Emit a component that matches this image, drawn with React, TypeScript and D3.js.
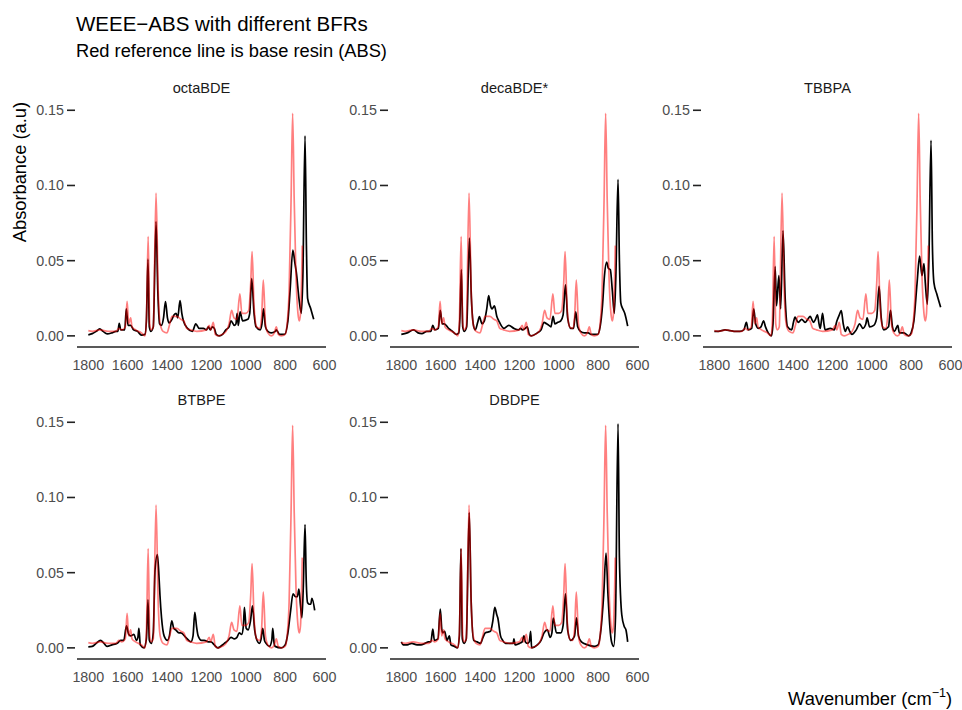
import React from 'react';
import * as d3 from 'd3';

type Pt = [number, number];

// base resin (ABS) reference spectrum, drawn red in every panel
const absBase: Pt[] = [
  [1800, 0.0035], [1780, 0.003], [1740, 0.004], [1700, 0.003], [1660, 0.003], [1645, 0.005],
  [1630, 0.004], [1612, 0.006], [1603, 0.023], [1595, 0.008], [1585, 0.012], [1578, 0.006],
  [1560, 0.004], [1530, 0.002], [1512, 0.0], [1505, 0.01], [1496, 0.066], [1488, 0.008],
  [1480, 0.004], [1470, 0.006], [1456, 0.095], [1445, 0.03], [1435, 0.008], [1420, 0.003],
  [1400, 0.002], [1390, 0.006], [1375, 0.013], [1350, 0.013], [1330, 0.011], [1315, 0.01],
  [1300, 0.005], [1280, 0.004], [1250, 0.003], [1200, 0.004], [1186, 0.007], [1178, 0.004],
  [1165, 0.009], [1155, 0.001], [1140, 0.0], [1120, 0.001], [1100, 0.003], [1085, 0.008],
  [1072, 0.017], [1060, 0.012], [1045, 0.011], [1030, 0.028], [1020, 0.015], [1000, 0.015],
  [985, 0.017], [975, 0.035], [968, 0.056], [958, 0.02], [945, 0.006], [930, 0.005],
  [920, 0.012], [911, 0.037], [900, 0.008], [888, 0.002], [870, 0.0], [855, 0.002],
  [845, 0.006], [835, 0.001], [820, 0.0], [800, 0.001], [790, 0.008], [780, 0.03],
  [770, 0.09], [762, 0.148], [754, 0.09], [745, 0.04], [735, 0.015], [728, 0.01],
  [722, 0.015], [713, 0.06],
];

const octaBDE: Pt[] = [
  [1800, 0.0007], [1780, 0.0015], [1760, 0.003], [1742, 0.0046], [1725, 0.003], [1704, 0.0013],
  [1680, 0.002], [1660, 0.003], [1650, 0.003], [1643, 0.0084], [1635, 0.004], [1615, 0.004],
  [1607, 0.018], [1598, 0.007], [1585, 0.007], [1570, 0.004], [1550, 0.003], [1530, 0.0005],
  [1512, 0.001], [1505, 0.01], [1497, 0.051], [1490, 0.006], [1482, 0.003], [1470, 0.006],
  [1456, 0.076], [1447, 0.03], [1438, 0.008], [1428, 0.007], [1418, 0.012], [1408, 0.0228],
  [1398, 0.012], [1390, 0.0086], [1375, 0.011], [1364, 0.014], [1354, 0.015], [1346, 0.012],
  [1334, 0.0234], [1325, 0.015], [1317, 0.01], [1296, 0.005], [1271, 0.003], [1254, 0.008],
  [1237, 0.005], [1215, 0.005], [1200, 0.004], [1190, 0.006], [1180, 0.004], [1170, 0.006],
  [1160, 0.005], [1150, 0.001], [1135, 0.0], [1118, 0.001], [1101, 0.004], [1085, 0.006],
  [1075, 0.01], [1058, 0.007], [1050, 0.008], [1044, 0.015], [1038, 0.007], [1029, 0.016],
  [1016, 0.01], [990, 0.011], [980, 0.015], [970, 0.038], [958, 0.015], [948, 0.006],
  [927, 0.004], [918, 0.008], [910, 0.018], [900, 0.006], [888, 0.003], [871, 0.002],
  [850, 0.003], [845, 0.004], [828, 0.001], [803, 0.001], [786, 0.01], [775, 0.03],
  [761, 0.057], [750, 0.048], [743, 0.042], [730, 0.025], [718, 0.015], [710, 0.04],
  [699, 0.133], [692, 0.06], [686, 0.025], [670, 0.018], [655, 0.011],
];

const decaBDE: Pt[] = [
  [1800, 0.001], [1770, 0.002], [1738, 0.004], [1715, 0.002], [1696, 0.0015], [1670, 0.003],
  [1650, 0.003], [1640, 0.007], [1630, 0.004], [1612, 0.005], [1602, 0.017], [1592, 0.008],
  [1582, 0.008], [1560, 0.005], [1540, 0.003], [1520, 0.001], [1508, 0.002], [1503, 0.01],
  [1495, 0.044], [1488, 0.006], [1480, 0.003], [1468, 0.006], [1454, 0.065], [1444, 0.025],
  [1432, 0.006], [1424, 0.004], [1412, 0.009], [1403, 0.0128], [1396, 0.01], [1390, 0.008],
  [1378, 0.01], [1366, 0.018], [1356, 0.0268], [1347, 0.02], [1339, 0.018], [1327, 0.02],
  [1315, 0.013], [1305, 0.01], [1279, 0.005], [1254, 0.007], [1228, 0.005], [1205, 0.004],
  [1194, 0.005], [1185, 0.004], [1170, 0.005], [1160, 0.006], [1150, 0.001], [1140, 0.0],
  [1109, 0.002], [1090, 0.004], [1075, 0.009], [1062, 0.008], [1050, 0.007], [1040, 0.006],
  [1029, 0.013], [1020, 0.008], [1005, 0.009], [990, 0.01], [978, 0.014], [966, 0.034],
  [955, 0.012], [939, 0.005], [925, 0.005], [914, 0.016], [904, 0.006], [890, 0.003],
  [870, 0.002], [850, 0.002], [837, 0.001], [803, 0.001], [790, 0.006], [778, 0.02],
  [768, 0.04], [757, 0.049], [748, 0.045], [738, 0.044], [728, 0.03], [718, 0.015],
  [710, 0.04], [699, 0.104], [692, 0.05], [685, 0.022], [675, 0.018], [665, 0.015],
  [650, 0.0065],
];

const tbbpa: Pt[] = [
  [1800, 0.003], [1780, 0.003], [1745, 0.004], [1720, 0.0035], [1700, 0.003], [1670, 0.003],
  [1650, 0.004], [1637, 0.009], [1628, 0.004], [1610, 0.005], [1600, 0.018], [1590, 0.008],
  [1577, 0.005], [1563, 0.006], [1550, 0.01], [1540, 0.006], [1526, 0.002], [1510, 0.0],
  [1502, 0.008], [1491, 0.046], [1484, 0.02], [1472, 0.04], [1463, 0.018], [1451, 0.07],
  [1440, 0.025], [1428, 0.006], [1407, 0.004], [1398, 0.009], [1390, 0.0124], [1380, 0.01],
  [1373, 0.009], [1356, 0.011], [1339, 0.009], [1325, 0.011], [1313, 0.013], [1305, 0.011],
  [1296, 0.009], [1286, 0.011], [1276, 0.014], [1268, 0.008], [1262, 0.005], [1256, 0.01],
  [1250, 0.015], [1243, 0.008], [1237, 0.004], [1211, 0.005], [1191, 0.004], [1177, 0.01],
  [1165, 0.014], [1155, 0.0168], [1145, 0.008], [1135, 0.003], [1123, 0.006], [1112, 0.003],
  [1101, 0.001], [1079, 0.004], [1062, 0.008], [1045, 0.005], [1030, 0.008], [1024, 0.012],
  [1011, 0.006], [990, 0.007], [975, 0.012], [963, 0.033], [952, 0.012], [939, 0.004],
  [915, 0.006], [905, 0.017], [895, 0.006], [885, 0.003], [868, 0.007], [860, 0.002],
  [837, 0.002], [812, 0.0], [800, 0.002], [786, 0.01], [770, 0.035], [757, 0.053],
  [745, 0.04], [735, 0.048], [728, 0.035], [718, 0.021], [710, 0.05], [699, 0.13],
  [692, 0.06], [684, 0.035], [670, 0.028], [650, 0.019],
];

const btbpe: Pt[] = [
  [1800, 0.0007], [1780, 0.001], [1760, 0.003], [1738, 0.005], [1720, 0.003], [1705, 0.001],
  [1680, 0.002], [1653, 0.003], [1636, 0.005], [1620, 0.005], [1606, 0.0147], [1595, 0.009],
  [1585, 0.008], [1568, 0.009], [1556, 0.005], [1548, 0.007], [1543, 0.013], [1536, 0.002],
  [1517, 0.0], [1505, 0.006], [1497, 0.032], [1490, 0.005], [1480, 0.003], [1470, 0.01],
  [1461, 0.052], [1449, 0.062], [1440, 0.045], [1436, 0.035], [1428, 0.02], [1415, 0.008],
  [1398, 0.005], [1388, 0.008], [1376, 0.018], [1366, 0.013], [1356, 0.012], [1340, 0.01],
  [1330, 0.01], [1305, 0.007], [1279, 0.004], [1268, 0.008], [1259, 0.0236], [1250, 0.014],
  [1242, 0.008], [1225, 0.005], [1211, 0.005], [1190, 0.004], [1177, 0.004], [1160, 0.002],
  [1143, 0.0], [1109, 0.003], [1090, 0.005], [1075, 0.007], [1058, 0.006], [1045, 0.007],
  [1033, 0.01], [1021, 0.009], [1012, 0.015], [1007, 0.027], [998, 0.013], [988, 0.012],
  [976, 0.018], [966, 0.028], [955, 0.012], [946, 0.006], [931, 0.003], [922, 0.006],
  [914, 0.013], [905, 0.005], [897, 0.003], [880, 0.001], [868, 0.005], [863, 0.013],
  [856, 0.003], [851, 0.001], [820, 0.0], [800, 0.002], [786, 0.01], [772, 0.025],
  [760, 0.036], [748, 0.034], [738, 0.034], [730, 0.039], [722, 0.028], [715, 0.02],
  [708, 0.04], [699, 0.082], [693, 0.045], [686, 0.03], [676, 0.029], [670, 0.029],
  [664, 0.033], [650, 0.025],
];

const dbdpe: Pt[] = [
  [1800, 0.004], [1790, 0.002], [1770, 0.002], [1747, 0.003], [1720, 0.002], [1700, 0.002],
  [1680, 0.003], [1662, 0.004], [1650, 0.004], [1640, 0.0124], [1632, 0.005], [1614, 0.006],
  [1602, 0.0258], [1594, 0.012], [1589, 0.01], [1580, 0.011], [1568, 0.005], [1556, 0.008],
  [1548, 0.002], [1530, 0.001], [1515, 0.0], [1505, 0.008], [1497, 0.066], [1490, 0.006],
  [1481, 0.003], [1470, 0.006], [1455, 0.09], [1445, 0.03], [1432, 0.005], [1415, 0.004],
  [1398, 0.003], [1385, 0.007], [1373, 0.01], [1347, 0.011], [1335, 0.018], [1325, 0.027],
  [1315, 0.022], [1310, 0.02], [1296, 0.008], [1285, 0.005], [1271, 0.003], [1245, 0.003],
  [1232, 0.003], [1228, 0.006], [1222, 0.002], [1200, 0.003], [1186, 0.004], [1177, 0.008],
  [1170, 0.004], [1160, 0.003], [1150, 0.004], [1143, 0.011], [1138, 0.0], [1109, 0.002],
  [1090, 0.005], [1075, 0.01], [1058, 0.012], [1044, 0.007], [1035, 0.01], [1028, 0.0198],
  [1012, 0.01], [990, 0.01], [978, 0.015], [966, 0.036], [955, 0.012], [939, 0.005],
  [920, 0.008], [910, 0.02], [900, 0.008], [885, 0.004], [854, 0.002], [820, 0.001],
  [800, 0.002], [786, 0.012], [772, 0.035], [760, 0.063], [750, 0.035], [738, 0.01],
  [730, 0.003], [721, 0.001], [712, 0.02], [699, 0.149], [692, 0.06], [680, 0.022],
  [667, 0.014], [659, 0.012], [650, 0.004],
];

const panelNames = ['octaBDE', 'decaBDE*', 'TBBPA', 'BTBPE', 'DBDPE'];
const panelSeries = [octaBDE, decaBDE, tbbpa, btbpe, dbdpe];
const xTicks = [1800, 1600, 1400, 1200, 1000, 800, 600];
const yTicks = [0, 0.05, 0.1, 0.15];

const W = 962;
const H = 710;
const font = 'Liberation Sans, Arial, Helvetica, sans-serif';
const colLeft = [77, 390, 703];
const rowTop = [102, 414];
const panelW = 249;
const panelH = 245;

const Panel = ({ name, data, left, top }: { name: string; data: Pt[]; left: number; top: number }) => {
  const x = d3.scaleLinear().domain([1857.5, 592.5]).range([left, left + panelW]);
  const y = d3.scaleLinear().domain([-0.0074, 0.1555]).range([top + panelH, top]);
  const line = d3.line<Pt>()
    .x(d => x(d[0]))
    .y(d => y(d[1]))
    .curve(d3.curveMonotoneX);
  const fmt = d3.format('.2f');
  return (
    <g>
      <text x={left + panelW / 2} y={top - 9} textAnchor="middle" fontSize={14.6} fill="#1A1A1A">{name}</text>
      {yTicks.map(t => (
        <g key={t}>
          <line x1={left - 10} x2={left - 2} y1={y(t)} y2={y(t)} stroke="#222" strokeWidth={1.6} />
          <text x={left - 13} y={y(t)} dy="0.35em" textAnchor="end" fontSize={14.3} fill="#4D4D4D">{fmt(t)}</text>
        </g>
      ))}
      <line x1={left} x2={left + panelW} y1={top + panelH} y2={top + panelH} stroke="#222" strokeWidth={1.6} />
      {xTicks.map(t => (
        <text key={t} x={x(t)} y={top + panelH + 23} textAnchor="middle" fontSize={14.3} fill="#4D4D4D">{t}</text>
      ))}
      <path d={line(data) ?? ''} fill="none" stroke="#000" strokeWidth={1.7} strokeLinejoin="round" />
      <path d={line(absBase) ?? ''} fill="none" stroke="#FF0000" strokeOpacity={0.5} strokeWidth={1.7} strokeLinejoin="round" />
    </g>
  );
};

export default function App() {
  return (
    <svg width={W} height={H} style={{ position: 'absolute', left: 0, top: 0, background: '#fff' }} fontFamily={font}>
      <text x={76} y={31} fontSize={20.5} fill="#000">WEEE−ABS with different BFRs</text>
      <text x={76} y={57} fontSize={18.3} fill="#000">Red reference line is base resin (ABS)</text>
      <text transform="translate(26,102) rotate(-90)" textAnchor="end" fontSize={18.3} fill="#000">Absorbance (a.u)</text>
      <text x={952} y={705} textAnchor="end" fontSize={18.3} fill="#000">
        Wavenumber (cm<tspan dy={-8} fontSize={12.5}>−1</tspan><tspan dy={8}>)</tspan>
      </text>
      {panelNames.map((n, i) => (
        <Panel key={n} name={n} data={panelSeries[i]} left={colLeft[i % 3]} top={rowTop[Math.floor(i / 3)]} />
      ))}
    </svg>
  );
}
